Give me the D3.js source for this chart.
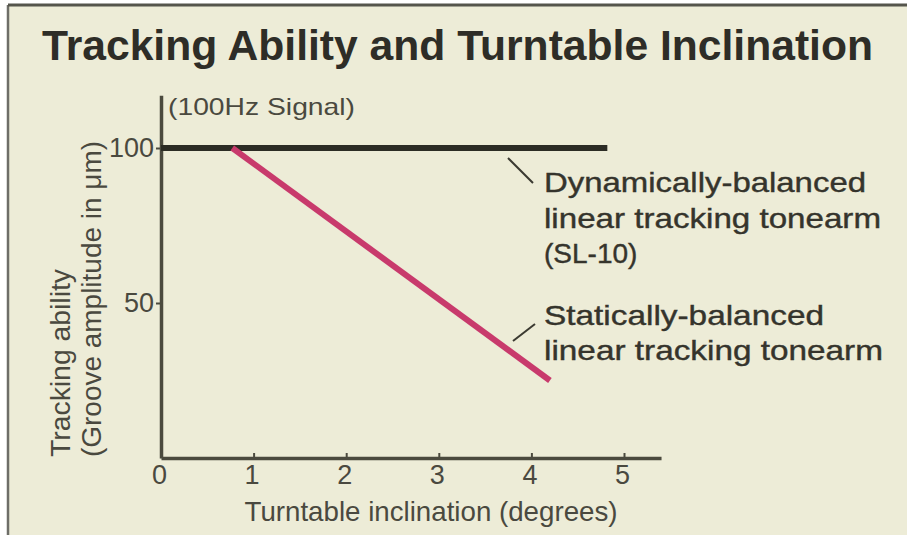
<!DOCTYPE html>
<html>
<head>
<meta charset="utf-8">
<script src="https://cdn.jsdelivr.net/npm/d3@7"></script>
<style>
  html, body { margin: 0; padding: 0; background: #fff; }
  text { font-family: "Liberation Sans", Arial, sans-serif; fill: #3b3a31; }
</style>
</head>
<body>
<div id="canvas"></div>
<script>
const canvas = d3.select("#canvas");

// data
const xTicks = [0, 1, 2, 3, 4, 5];
const yTicks = [50, 100];
const dynamicX = [0, 4.82];
const dynamicY = [100, 100];
const staticX = [0.77, 4.2];
const staticY = [100, 25];
const dynamicLabel = ["Dynamically-balanced", "linear tracking tonearm", "(SL-10)"];
const staticLabel = ["Statically-balanced", "linear tracking tonearm"];

const width = 907;
const height = 535;

const svg = canvas.append("svg")
    .attr("width", width)
    .attr("height", height);

// the print's lettering is wider than Liberation, so stretch to the measured width
let fit = (sel, w) => {
    if (w) sel.attr("textLength", w).attr("lengthAdjust", "spacingAndGlyphs");
    return sel;
};

// paper + frame
svg.append("rect")
    .attr("x", 8).attr("y", 5)
    .attr("width", width - 8).attr("height", height - 5)
    .style("fill", "#edecd7");
svg.append("line")
    .attr("x1", 8).attr("x2", 8).attr("y1", 5).attr("y2", height)
    .style("stroke", "#6e6e68").style("stroke-width", 2.5);
svg.append("line")
    .attr("x1", 8).attr("x2", width).attr("y1", 5).attr("y2", 5)
    .style("stroke", "#55554c").style("stroke-width", 3);

// title
svg.append("text")
    .attr("x", 42).attr("y", 60)
    .call(fit, 831)
    .style("font-size", "42px")
    .style("font-weight", "bold")
    .style("fill", "#2e2d27")
    .text("Tracking Ability and Turntable Inclination");

const x = d3.scaleLinear()
    .domain([0, 5.4])
    .range([161, 161 + 5.4 * 92.6]);

const y = d3.scaleLinear()
    .domain([0, 117])
    .range([458, 458 - 117 * 3.1]);

// axes
const xAxis = svg.append("g")
    .attr("transform", `translate(0, ${y(0)})`)
    .call(d3.axisBottom(x).tickValues(xTicks).tickFormat(d3.format("d"))
        .tickSize(-5).tickSizeOuter(0).tickPadding(7));

const yAxis = svg.append("g")
    .attr("transform", `translate(${x(0)}, 0)`)
    .call(d3.axisLeft(y).tickValues(yTicks).tickFormat(d3.format("d"))
        .tickSize(5).tickSizeOuter(0).tickPadding(2));

[xAxis, yAxis].forEach(a => {
    a.select(".domain").style("stroke", "#4b4a3e").style("stroke-width", 3.5);
    a.selectAll(".tick line").style("stroke", "#4b4a3e").style("stroke-width", 2);
    a.selectAll(".tick text")
        .style("font-size", "27px")
        .style("font-family", "'Liberation Sans', Arial, sans-serif")
        .style("fill", "#4a493f");
});

xAxis.selectAll(".tick text").attr("dx", "-2");

// axis titles
svg.append("text")
    .attr("x", 431).attr("y", 521)
    .attr("text-anchor", "middle")
    .call(fit, 373)
    .style("font-size", "28px")
    .style("fill", "#4a493f")
    .text("Turntable inclination (degrees)");

svg.append("text")
    .attr("transform", "translate(70, 457) rotate(-90)")
    .call(fit, 188)
    .style("font-size", "27px")
    .style("fill", "#4a493f")
    .text("Tracking ability");

svg.append("text")
    .attr("transform", "translate(101, 457) rotate(-90)")
    .call(fit, 316)
    .style("font-size", "27px")
    .style("fill", "#4a493f")
    .text("(Groove amplitude in μm)");

svg.append("text")
    .attr("x", 168).attr("y", 115)
    .call(fit, 187)
    .style("font-size", "24px")
    .style("fill", "#4a493f")
    .text("(100Hz Signal)");

// lines
const line = d3.line()
    .x(d => x(d[0]))
    .y(d => y(d[1]));

svg.append("path")
    .datum(d3.zip(dynamicX, dynamicY))
    .attr("d", line)
    .style("fill", "none")
    .style("stroke", "#2c2c24")
    .style("stroke-width", 6);

svg.append("path")
    .datum(d3.zip(staticX, staticY))
    .attr("d", line)
    .style("fill", "none")
    .style("stroke", "#c83a6c")
    .style("stroke-width", 6);

// leaders and labels
svg.append("line")
    .attr("x1", 508).attr("y1", 158).attr("x2", 533).attr("y2", 183)
    .style("stroke", "#3b3a31").style("stroke-width", 2);
svg.append("line")
    .attr("x1", 513).attr("y1", 341).attr("x2", 535).attr("y2", 324)
    .style("stroke", "#3b3a31").style("stroke-width", 2);

const dynWidths = [322, 337, null];
svg.append("g").selectAll("text").data(dynamicLabel).enter().append("text")
    .attr("x", 544)
    .attr("y", (d, i) => 192 + i * 35.5)
    .each(function(d, i) { fit(d3.select(this), dynWidths[i]); })
    .style("font-size", "28px")
    .style("fill", "#35342c")
    .style("stroke", "#35342c")
    .style("stroke-width", 0.4)
    .text(d => d);

const statWidths = [280, 339];
svg.append("g").selectAll("text").data(staticLabel).enter().append("text")
    .attr("x", 544)
    .attr("y", (d, i) => 325 + i * 35)
    .each(function(d, i) { fit(d3.select(this), statWidths[i]); })
    .style("font-size", "28px")
    .style("fill", "#35342c")
    .style("stroke", "#35342c")
    .style("stroke-width", 0.4)
    .text(d => d);
</script>
</body>
</html>
